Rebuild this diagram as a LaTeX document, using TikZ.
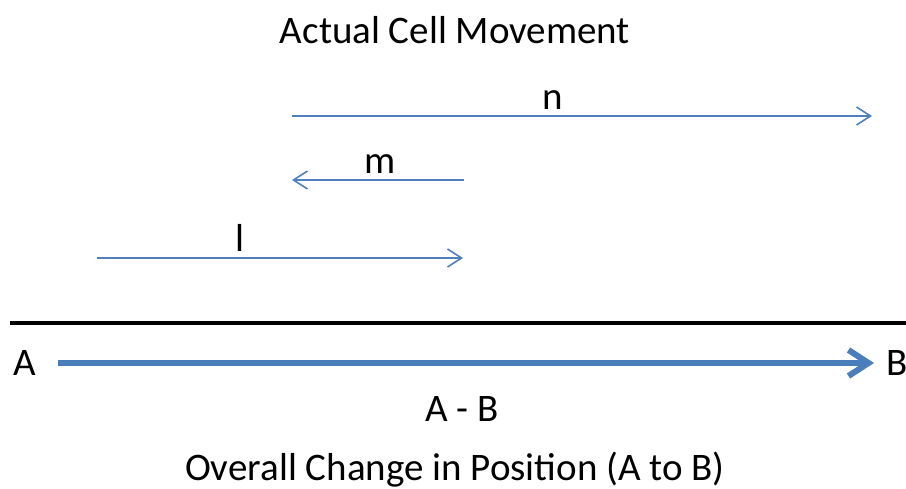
\documentclass[tikz,border=0pt]{standalone}
\usepackage{fontspec}
\setmainfont{Carlito}
\usetikzlibrary{arrows.meta}
\definecolor{thinblue}{HTML}{4F7FBC}
\definecolor{thickblue}{HTML}{4A7EBB}
\tikzset{
  lbl/.style={font=\fontsize{39}{42}\selectfont, inner sep=0pt, anchor=base},
  thinarrow/.style={draw=thinblue, line width=1.6pt, -{Straight Barb[length=14pt,width=18pt,line width=1.6pt]}},
  thickarrow/.style={draw=thickblue, line width=6pt, -{Straight Barb[length=20pt,width=26pt,line width=6pt]}},
}
\begin{document}
\begin{tikzpicture}[x=1pt,y=-1pt]
\useasboundingbox (0,0) rectangle (906,489);
\node[lbl] (title) at (455,44) {Actual Cell Movement};
\coordinate (n1) at (292,116); \coordinate (n2) at (872,116);
\draw[thinarrow] (n1) -- (n2);
\node[lbl] (nl) at (553,110) {n};
\coordinate (m1) at (464,180); \coordinate (m2) at (292,180);
\draw[thinarrow] (m1) -- (m2);
\node[lbl] (ml) at (380,174) {m};
\coordinate (l1) at (97,258); \coordinate (l2) at (463,258);
\draw[thinarrow] (l1) -- (l2);
\node[lbl] (ll) at (240,252) {l};
\coordinate (b1) at (10,323); \coordinate (b2) at (906,323);
\draw[line width=4pt] (b1) -- (b2);
\node[lbl] (A) at (25,375) {A};
\node[lbl] (B) at (897,375) {B};
\coordinate (t1) at (58,363); \coordinate (t2) at (874,363);
\draw[thickarrow] (t1) -- (t2);
\node[lbl] (AB) at (462,421) {A - B};
\node[lbl] (ov) at (455,480) {Overall Change in Position (A to B)};
\end{tikzpicture}
\end{document}
